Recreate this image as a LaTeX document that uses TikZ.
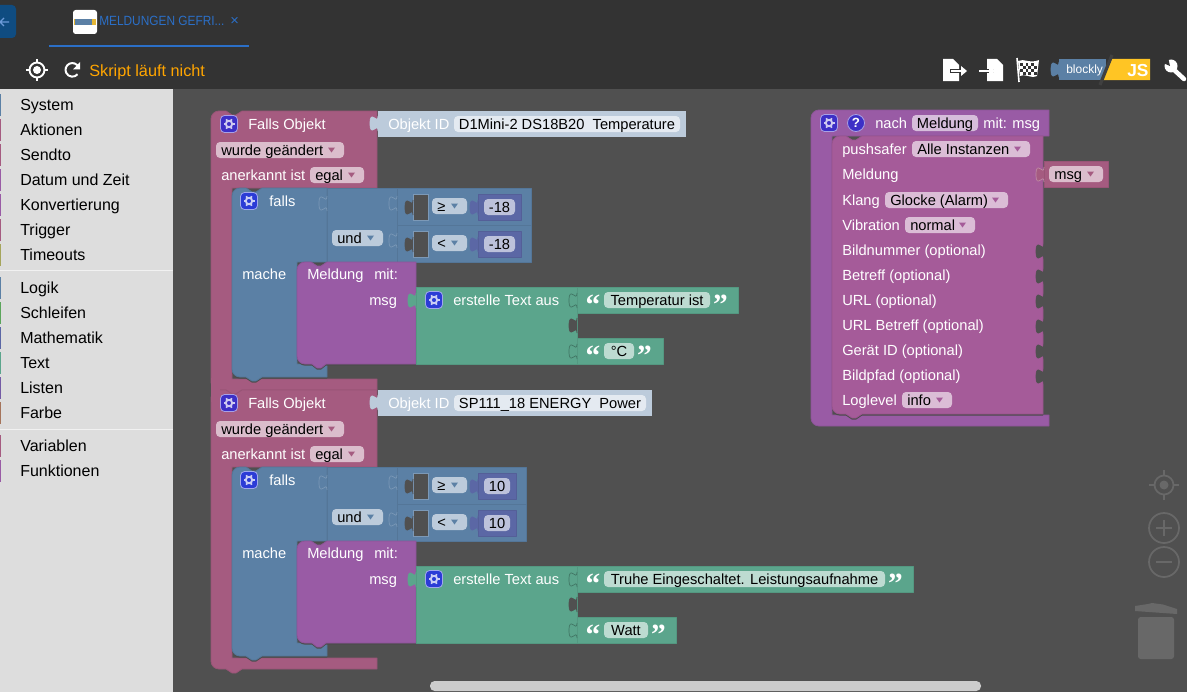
\documentclass[tikz,border=0pt]{standalone}
\usepackage{fontspec}
\setmainfont{Liberation Sans}
\newfontfamily\quotefont{Liberation Serif}
\newfontfamily\tabfont[FakeStretch=0.89]{Liberation Sans}
\usepackage{tikz}
\tikzset{>=latex}

\definecolor{barcol}{HTML}{333333}
\definecolor{wscol}{HTML}{505050}
\definecolor{sidecol}{HTML}{DDDDDD}
\definecolor{pinkcol}{HTML}{A55B80}
\definecolor{bluecol}{HTML}{5B80A5}
\definecolor{purpcol}{HTML}{995BA5}
\definecolor{greencol}{HTML}{5BA58C}
\definecolor{numcol}{HTML}{5B67A5}
\definecolor{pushcol}{HTML}{A55B99}
\definecolor{idcol}{HTML}{BCCBDB}
\definecolor{tabblue}{HTML}{2B6FC7}
\definecolor{toolcol}{HTML}{686868}
\definecolor{backcol}{HTML}{0F4C81}
\definecolor{gearpink}{HTML}{3D2FC6}
\definecolor{gearblue}{HTML}{2B3CD6}
\definecolor{jscol}{HTML}{FFC524}
\definecolor{statecol}{HTML}{FFA500}
\definecolor{timecol}{HTML}{A5A55B}
\definecolor{loopcol}{HTML}{5BA55B}
\definecolor{listcol}{HTML}{745BA5}
\definecolor{farbcol}{HTML}{A5745B}

\tikzset{
  lab/.style={text=white,font=\fontsize{11}{13}\selectfont,anchor=base west,inner sep=0pt},
  val/.style={lab,text=black},
  sidelab/.style={lab,text=black,font=\fontsize{12}{14}\selectfont},
  block/.style={fill=#1,draw=#1!92!black,line width=0.6pt,line join=round},
  inblock/.style={block=#1,preaction={fill=black!70,transform canvas={yshift=-1.2pt}}},
  quot/.style={text=white,font=\fontsize{22}{22}\selectfont\quotefont\bfseries,anchor=base,inner sep=0pt},
}

% tab of a block, drawn with its top end at (x,y)
\newcommand{\jack}[4]{%
  \begin{scope}[shift={(#1,#2)}]
    \path[fill=#3,draw=#4,line width=0.5pt] (0,0) .. controls (0,10) and (-8,-8) .. (-8,7.5) .. controls (-8,23) and (0,5) .. (0,15);
  \end{scope}}
% x1, x2, y, fill, triangle, name, text
\newcommand{\ddfield}[7]{%
  \fill[#4,rounded corners=3pt] (#1,#3-8) rectangle (#2,#3+8);
  \fill[#5] (#2-16,#3-2.5) -- (#2-9,#3-2.5) -- (#2-12.5,#3+2.5) -- cycle;
  \node[val] (#6) at (#1+5,#3+5) {#7};}
% x1, x2, y, fill, name, text
\newcommand{\txfield}[6]{%
  \fill[#4,rounded corners=3pt] (#1,#3-8) rectangle (#2,#3+8);
  \node[val,anchor=base] (#5) at ({(#1+#2)/2},#3+5) {#6};}
% settings button with cog
\newcommand{\gearbtn}[3]{%
  \fill[#3,draw=white!55!#3,rounded corners=3pt,line width=0.6pt] (#1-8.5,#2-8.5) rectangle (#1+8.5,#2+8.5);
  \draw[white!75!#3,line width=1.4pt] (#1,#2) circle[radius=3.2];
  \foreach \a in {0,60,...,300}
    \draw[white!75!#3,line width=1.3pt] ({#1+3.5*cos(\a)},{#2+3.5*sin(\a)}) -- ({#1+5.5*cos(\a)},{#2+5.5*sin(\a)});}

\begin{document}
\begin{tikzpicture}[x=0.75pt,y=-0.75pt]
\useasboundingbox (0,0) rectangle (1187,692);
\fill[wscol] (0,0) rectangle (1187,692);
\fill[barcol] (0,0) rectangle (1187,89);
\fill[sidecol] (0,89) rectangle (173,692);

% tab bar
\fill[backcol,rounded corners=3pt] (-6,5) rectangle (16,38);
\draw[tabblue!70!white,line width=0.9pt] (9,22) -- (0,22) (4,18) -- (0,22) -- (4,26);
\fill[white,rounded corners=2pt] (73,10) rectangle (97,34);
\fill[jscol!80!gray] (74,19) rectangle (96,25);
\fill[bluecol] (75,19) rectangle (92,25);
\node[lab,text=tabblue,font=\fontsize{10}{12}\tabfont] (tabname) at (99,26) {MELDUNGEN GEFRI...};
\node[lab,text=tabblue] (tabclose) at (230,26) {×};
\fill[tabblue] (49,45) rectangle (249,47);

% left tools
\draw[white,line width=1.4pt] (37,70) circle[radius=7.5];
\fill[white] (37,70) circle[radius=4];
\foreach \a in {0,90,180,270}
  \draw[white,line width=1.4pt] ({37+7*cos(\a)},{70+7*sin(\a)}) -- ({37+11*cos(\a)},{70+11*sin(\a)});
\draw[white,line width=1.5pt] (78.5,67) arc[start angle=-25,delta angle=-295,radius=6.8];
\fill[white] (80,62) -- (80,69.5) -- (73,69.5) -- cycle;
\node[lab,text=statecol,font=\fontsize{12.2}{14}\selectfont] (state) at (89,76) {Skript läuft nicht};

% right tools
\fill[white] (943,59) -- (953,59) -- (959,65) -- (959,81) -- (943,81) -- cycle;
\draw[barcol,line width=3.4pt] (950,71) -- (961,71);
\draw[white,line width=1.5pt] (951,71) -- (963,71);
\fill[white] (961,66) -- (967,71) -- (961,76) -- cycle;
\fill[white] (987,59) -- (997,59) -- (1003,65) -- (1003,81) -- (987,81) -- cycle;
\draw[barcol,line width=3.4pt] (978,71) -- (994,71);
\draw[white,line width=1.5pt] (979,71) -- (990,71);
\fill[white] (989,65) -- (995.5,71) -- (989,77) -- cycle;
\draw[white,line width=1.2pt] (1017,58) -- (1019,82);
\fill[white] (1018,61) .. controls (1024,58) and (1030,64) .. (1039,60) -- (1037,76) .. controls (1030,79) and (1025,73) .. (1020,76) -- cycle;
\foreach \i/\j in {0/0,2/0,4/0,1/1,3/1,5/1,0/2,2/2,4/2,1/3,3/3,5/3}
  \fill[barcol] (1020+2.8*\i,63+3*\j) rectangle (1022.8+2.8*\i,66+3*\j);
\jack{1059}{62}{bluecol}{bluecol}
\fill[bluecol] (1059,59) rectangle (1106,80);
\node[lab,font=\fontsize{9}{11}\selectfont] (blocklytag) at (1066,74) {blockly};
\fill[jscol] (1103,80) -- (1112,59) -- (1150,59) -- (1150,80) -- cycle;
\draw[black!75,line width=2.4pt] (1100,85) -- (1112,55);
\node[lab,font=\fontsize{13}{15}\selectfont\bfseries] (jstag) at (1127,76) {JS};
\draw[white,line width=3.4pt,line cap=round] (1172,68) -- (1184,79);
\fill[white] (1171,66) circle[radius=6.5];
\fill[barcol] (1170,66) -- (1163,63) -- (1168,57) -- cycle;

% toolbox
\foreach \yy/\catname/\catcol in {105/System/bluecol,130/Aktionen/pinkcol,155/Sendto/pinkcol,180/Datum und Zeit/purpcol,205/Konvertierung/purpcol,230/Trigger/pinkcol,255/Timeouts/timecol,288/Logik/bluecol,313/Schleifen/loopcol,338/Mathematik/numcol,363/Text/greencol,388/Listen/listcol,413/Farbe/farbcol,446/Variablen/pinkcol,471/Funktionen/purpcol}{
  \fill[\catcol] (0,\yy-11) rectangle (1.4,\yy+11);
  \node[sidelab] (cat\yy) at (20,\yy+5) {\catname};
}
\fill[white!60!sidecol] (0,270) rectangle (173,271);
\fill[white!60!sidecol] (0,429) rectangle (173,430);

% two trigger groups
\foreach \gr/\yoff/\objid/\idfld/\idend/\num/\numend/\txtone/\txtfld/\txttwo/\lastfld/\lastend in {a/0/D1Mini-2 DS18B20\ \ Temperature/680/686/-18/521/Temperatur ist/710/°C/634/663,b/279/SP111\_18 ENERGY\ \ Power/646/652/10/516/Truhe Eingeschaltet. Leistungsaufnahme/885/Watt/648/676}{
\begin{scope}[shift={(0,\yoff)}]
  % trigger hat
  \path[block=pinkcol] (211,135) [rounded corners=6pt] -- (211,111) [sharp corners] -- (226,111) -- (232,115) -- (236,115) -- (242,111) -- (377,111) -- (377,188) -- (232,188) -- (232,379) -- (377,379) -- (377,390) -- (242,390) -- (236,394) -- (232,394) -- (226,390) [rounded corners=6pt] -- (211,390) [sharp corners] -- cycle;
  \gearbtn{229}{124}{gearpink}
  \node[lab] (\gr hat) at (248,129) {Falls Objekt};
  \ddfield{216}{344}{150}{pinkcol!40!white}{pinkcol}{\gr change}{wurde geändert}
  \node[lab] (\gr ack) at (221,180) {anerkannt ist};
  \ddfield{310}{364}{175}{pinkcol!40!white}{pinkcol}{\gr ackval}{egal}
  % object id
  \fill[idcol] (378,111) rectangle (\idend,137);
  \jack{378}{116}{idcol}{idcol}
  \node[lab] (\gr objlab) at (388,129) {Objekt ID};
  \txfield{454}{\idfld}{124}{white!60!idcol}{\gr objval}{\objid}
  % if block
  \path[inblock=bluecol] (232,215) [rounded corners=6pt] -- (232,188) [sharp corners] -- (246,188) -- (252,192) -- (256,192) -- (262,188) -- (327,188) -- (327,262) -- (297,262) -- (297,364) -- (327,364) -- (327,377) -- (262,377) -- (256,381) -- (252,381) -- (246,377) [rounded corners=6pt] -- (232,377) [sharp corners] -- cycle;
  \gearbtn{249}{201}{gearblue}
  \node[lab] (\gr if) at (269,206) {falls};
  \node[lab] (\gr do) at (242,279) {mache};
  % and block with its compare rows
  \path[block=bluecol] (327,188) rectangle (397,262);
  \jack{327}{196}{bluecol}{bluecol!80!white}
  \ddfield{332}{383}{238}{idcol}{bluecol}{\gr and}{und}
  \foreach \row/\ry/\cmp in {one/188/≥,two/225/<}{
    \path[block=bluecol] (397,\ry) rectangle (\numend+10,\ry+37);
    \jack{397}{\ry+8}{bluecol}{bluecol!80!white}
    \fill[wscol,draw=bluecol!80!white,line width=0.5pt] (413,\ry+6) rectangle (428,\ry+32);
    \jack{413}{\ry+12}{wscol}{wscol}
    \ddfield{432}{467}{\ry+18}{idcol}{bluecol}{\gr cmp\row}{\cmp}
    \path[block=numcol] (478,\ry+6) rectangle (\numend,\ry+32);
    \jack{478}{\ry+12}{numcol}{numcol}
    \txfield{484}{\numend-6}{\ry+19}{numcol!40!white}{\gr num\row}{\num}
  }
  % call block
  \path[inblock=purpcol] (297,285) [rounded corners=6pt] -- (297,262) [sharp corners] -- (311,262) -- (317,266) -- (321,266) -- (327,262) -- (416,262) -- (416,364) -- (326,364) -- (321,368) -- (317,368) -- (312,364) [rounded corners=6pt] -- (297,364) [sharp corners] -- cycle;
  \node[lab] (\gr call) at (307,279) {Meldung};
  \node[lab] (\gr with) at (374,279) {mit:};
  \node[lab] (\gr msg) at (369,305) {msg};
  % text join
  \path[block=greencol] (416,287) -- (577,287) -- (577,364) -- (416,364) -- cycle;
  \jack{416}{293}{greencol}{greencol}
  \jack{577}{318}{wscol}{wscol}
  \gearbtn{434}{300}{gearblue}
  \node[lab] (\gr join) at (453,305) {erstelle Text aus};
  \path[block=greencol] (577,287) rectangle (\txtfld+28,313);
  \jack{577}{293}{greencol}{greencol!70!black}
  \node[quot] (\gr qa) at (593,314) {“};
  \txfield{604}{\txtfld}{300}{greencol!40!white}{\gr txta}{\txtone}
  \node[quot] (\gr qb) at (\txtfld+10.5,314) {”};
  \path[block=greencol] (577,338) rectangle (\lastend,364);
  \jack{577}{344}{greencol}{greencol!70!black}
  \node[quot] (\gr qc) at (593,365) {“};
  \txfield{604}{\lastfld}{351}{greencol!40!white}{\gr txtb}{\txttwo}
  \node[quot] (\gr qd) at (\lastfld+10.5,365) {”};
\end{scope}
}
% the two hats join without a gap
\fill[pinkcol] (211,378) rectangle (220,402);

% function block
\path[block=purpcol] (811,130) [rounded corners=6pt] -- (811,110) [sharp corners] -- (1049,110) -- (1049,136) -- (832,136) -- (832,415) -- (1049,415) -- (1049,426) -- (834,426) [rounded corners=6pt] -- (811,426) [sharp corners] -- cycle;
\gearbtn{829}{123}{gearpink}
\fill[gearpink,draw=white!55!gearpink,line width=0.6pt] (856,123) circle[radius=8.5];
\node[lab,font=\fontsize{10}{12}\selectfont\bfseries,anchor=base] (helpmark) at (856,127) {?};
\node[lab] (fnnach) at (875,128) {nach};
\txfield{912}{978}{123}{purpcol!40!white}{fnname}{Meldung}
\node[lab] (fnargs) at (983,128) {mit: msg};
% pushsafer block
\path[inblock=pushcol] (832,160) [rounded corners=6pt] -- (832,136) [sharp corners] -- (846,136) -- (852,140) -- (856,140) -- (862,136) -- (1043,136) -- (1043,414) -- (862,414) -- (856,418) -- (852,418) -- (846,414) [rounded corners=6pt] -- (832,414) [sharp corners] -- cycle;
\node[lab] (pushlab) at (842,154) {pushsafer};
\ddfield{912}{1030}{149}{pushcol!40!white}{pushcol}{pushval}{Alle Instanzen}
\node[lab] (melden) at (842,179) {Meldung};
\path[block=pinkcol] (1044,161) rectangle (1108,187);
\jack{1044}{167}{pinkcol}{pinkcol!70!white}
\ddfield{1049}{1103}{174}{pinkcol!40!white}{pinkcol}{msgval}{msg}
\node[lab] (klang) at (842,205) {Klang};
\ddfield{885}{1008}{200}{pushcol!40!white}{pushcol}{klangval}{Glocke (Alarm)}
\node[lab] (vibr) at (842,230) {Vibration};
\ddfield{905}{975}{225}{pushcol!40!white}{pushcol}{vibrval}{normal}
\foreach \yy/\optname in {250/Bildnummer (optional),275/Betreff (optional),300/URL (optional),325/URL Betreff (optional),350/Gerät ID (optional),375/Bildpfad (optional)}{
  \node[lab] (opt\yy) at (842,\yy+5) {\optname};
  \jack{1044}{\yy-6}{wscol}{wscol}
}
\node[lab] (loglab) at (842,405) {Loglevel};
\ddfield{902}{952}{400}{pushcol!40!white}{pushcol}{logval}{info}

% workspace controls
\draw[toolcol,line width=1.3pt] (1164,485) circle[radius=9.5];
\fill[toolcol] (1164,485) circle[radius=4.5];
\foreach \a in {0,90,180,270}
  \draw[toolcol,line width=1.3pt] ({1164+9.5*cos(\a)},{485+9.5*sin(\a)}) -- ({1164+15*cos(\a)},{485+15*sin(\a)});
\draw[toolcol,line width=1.3pt] (1164,528) circle[radius=15];
\draw[toolcol,line width=1.3pt] (1156,528) -- (1172,528) (1164,520) -- (1164,536);
\draw[toolcol,line width=1.3pt] (1164,562) circle[radius=15];
\draw[toolcol,line width=1.3pt] (1156,562) -- (1172,562);
\fill[toolcol,rounded corners=2pt] (1138,617) rectangle (1174,659);
\fill[toolcol] (1135,606) -- (1148,604) -- (1152,603) -- (1163,604.5) -- (1177,609) -- (1177,614) -- (1135,611) -- cycle;
% scrollbar
\fill[black!20,rounded corners=3.5pt] (430,681) rectangle (981,691);
\end{tikzpicture}
\end{document}
